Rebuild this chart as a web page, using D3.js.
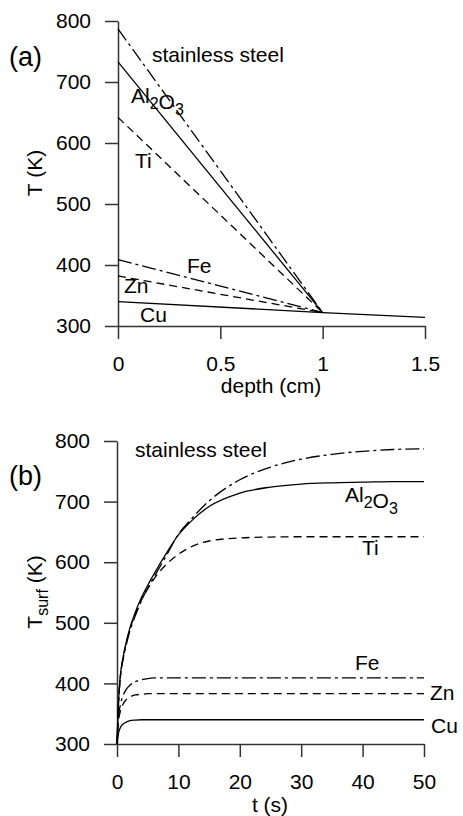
<!DOCTYPE html>
<html lang="en">
<head>
<meta charset="UTF-8">
<title>surface temperature</title>
<script src="https://d3js.org/d3.v7.min.js"></script>
<style>
  body { margin: 0; background: #fff; }
  svg text { font-family: "Liberation Sans", Arial, sans-serif; fill: #000; }
</style>
</head>
<body>
<div id="chart"></div>
<script>
// ---- data, panel (a): temperature profile vs depth ----
var materials = ["stainless steel", "Al2O3", "Ti", "Fe", "Zn", "Cu"];
var depthPts = [0, 1];
var surfT = [787, 733, 642, 409, 382, 340];   // T at depth 0
var interfaceT = 322;                          // T at depth 1 cm
var substrateDepth = [1, 1.5];
var substrateT = [322, 314];

// ---- data, panel (b): surface temperature vs time ----
var times = [0, 0.25, 0.5, 1, 1.5, 2, 3, 4, 5, 6, 8, 10, 12, 15, 20, 25, 30, 35, 40, 45, 50];
var steelT = [300, 368, 405, 440, 463, 483, 512, 537, 557, 575, 610, 646, 670, 701, 736, 757, 770, 778, 783, 786, 787];
var al2o3T = [300, 370, 408, 444, 468, 488, 518, 542, 562, 580, 614, 645, 667, 692, 714, 724, 729, 731, 732, 733, 733];
var tiT    = [300, 369, 406, 442, 466, 486, 515, 538, 556, 572, 596, 613, 625, 635, 640, 641.5, 642, 642, 642, 642, 642];
var feT    = [300, 345, 362, 380, 390, 396, 403, 406, 408, 409, 409, 409, 409, 409, 409, 409, 409, 409, 409, 409, 409];
var znT    = [300, 338, 352, 366, 373, 377, 381, 382, 383, 383, 383, 383, 383, 383, 383, 383, 383, 383, 383, 383, 383];
var cuT    = [300, 318, 326, 333, 336, 338, 339.5, 340, 340, 340, 340, 340, 340, 340, 340, 340, 340, 340, 340, 340, 340];

var depthTicks = [0, 0.5, 1, 1.5];
var timeTicks = [0, 10, 20, 30, 40, 50];
var tempTicks = [300, 400, 500, 600, 700, 800];

// line styles per material
var dashes = {
  "stainless steel": "14,4,3,4",
  "Al2O3": null,
  "Ti": "8,5",
  "Fe": "14,4,3,4",
  "Zn": "8,5",
  "Cu": null
};

var W = 463, H = 816;
var svg = d3.select("#chart").append("svg")
  .attr("width", W).attr("height", H);

// ---- helper: draw axes with major + minor ticks ----
function drawAxes(g, x, y, xMajor, xMinorStep, yMajor) {
  var h = y.range()[0];
  var xr = x.domain();
  var xMinor = d3.range(xr[0], xr[1] + 1e-9, xMinorStep);
  var yMinor = d3.range(300, 801, 50);

  var xa = g.append("g").attr("transform", "translate(0," + h + ")");
  xa.call(d3.axisBottom(x).tickValues(xMinor).tickSize(7).tickSizeOuter(0).tickFormat(""));
  xa.call(d3.axisBottom(x).tickValues(xMajor).tickSize(13).tickSizeOuter(0)
          .tickPadding(17).tickFormat(d3.format("")));
  var ya = g.append("g").attr("transform", "translate(" + x.range()[0] + ",0)");
  ya.call(d3.axisLeft(y).tickValues(yMinor).tickSize(7).tickSizeOuter(0).tickFormat(""));
  ya.call(d3.axisLeft(y).tickValues(yMajor).tickSize(13).tickSizeOuter(0)
          .tickPadding(14).tickFormat(d3.format("")));

  g.selectAll(".domain").attr("stroke", "#333").attr("stroke-width", 1.5);
  g.selectAll(".tick line").attr("stroke", "#333").attr("stroke-width", 1.5);
  g.selectAll(".tick text").style("font-size", "21px")
    .style("font-family", "Liberation Sans, Arial, sans-serif").attr("fill", "#000");
}

// parts: plain strings, or {sub: "..."} for subscripts
function label(g, x, y, parts, size) {
  var t = g.append("text").attr("x", x).attr("y", y).style("font-size", (size || 21) + "px");
  parts.forEach(function(p) {
    if (typeof p === "object") {
      t.append("tspan").attr("dy", 6).style("font-size", "16px").text(p.sub);
      t.append("tspan").attr("dy", -6).text("");
    } else {
      t.append("tspan").text(p);
    }
  });
  return t;
}

var labelParts = {
  "stainless steel": ["stainless steel"],
  "Al2O3": ["Al", {sub: "2"}, "O", {sub: "3"}],
  "Ti": ["Ti"], "Fe": ["Fe"], "Zn": ["Zn"], "Cu": ["Cu"]
};

// ================= panel (a) =================
var xa = d3.scaleLinear().domain([0, 1.5]).range([118, 425]);
var ya = d3.scaleLinear().domain([300, 800]).range([326, 21]);
var ga = svg.append("g");
drawAxes(ga, xa, ya, depthTicks, 0.1, tempTicks);

var lineA = d3.line().x(function(d) { return xa(d[0]); }).y(function(d) { return ya(d[1]); });
materials.forEach(function(m, i) {
  ga.append("path")
    .datum(depthPts.map(function(dp, j) { return [dp, j === 0 ? surfT[i] : interfaceT]; }))
    .attr("d", lineA).attr("fill", "none").attr("stroke", "#000")
    .attr("stroke-width", 1.3).attr("stroke-dasharray", dashes[m]);
});
ga.append("path")
  .datum(substrateDepth.map(function(dp, j) { return [dp, substrateT[j]]; }))
  .attr("d", lineA).attr("fill", "none").attr("stroke", "#000").attr("stroke-width", 1.3);

var labelPosA = {
  "stainless steel": [152, 62], "Al2O3": [131, 103], "Ti": [135, 168],
  "Fe": [187, 273], "Zn": [124, 293], "Cu": [140, 322]
};
materials.forEach(function(m) {
  label(ga, labelPosA[m][0], labelPosA[m][1], labelParts[m]);
});

ga.append("text").attr("x", 271).attr("y", 393).attr("text-anchor", "middle")
  .style("font-size", "21px").text("depth (cm)");
ga.append("text").attr("transform", "translate(42,173) rotate(-90)")
  .attr("text-anchor", "middle").style("font-size", "21px").text("T (K)");
ga.append("text").attr("x", 9).attr("y", 66).style("font-size", "27px").text("(a)");

// ================= panel (b) =================
var xb = d3.scaleLinear().domain([0, 50]).range([117, 424]);
var yb = d3.scaleLinear().domain([300, 800]).range([744, 441]);
var gb = svg.append("g");
drawAxes(gb, xb, yb, timeTicks, 5, tempTicks);

var seriesB = [steelT, al2o3T, tiT, feT, znT, cuT];
var lineB = d3.line().curve(d3.curveMonotoneX)
  .x(function(d) { return xb(d[0]); }).y(function(d) { return yb(d[1]); });
materials.forEach(function(m, i) {
  gb.append("path")
    .datum(times.map(function(t, j) { return [t, seriesB[i][j]]; }))
    .attr("d", lineB).attr("fill", "none").attr("stroke", "#000")
    .attr("stroke-width", 1.3).attr("stroke-dasharray", dashes[m]);
});

var labelPosB = {
  "stainless steel": [135, 457], "Al2O3": [345, 502], "Ti": [362, 555],
  "Fe": [355, 670], "Zn": [430, 700], "Cu": [431, 733]
};
materials.forEach(function(m) {
  label(gb, labelPosB[m][0], labelPosB[m][1], labelParts[m]);
});

gb.append("text").attr("x", 270).attr("y", 812).attr("text-anchor", "middle")
  .style("font-size", "21px").text("t (s)");
var yt = gb.append("text").attr("transform", "translate(42,592) rotate(-90)")
  .attr("text-anchor", "middle").style("font-size", "21px");
yt.append("tspan").text("T");
yt.append("tspan").attr("dy", 6).style("font-size", "16px").text("surf");
yt.append("tspan").attr("dy", -6).text(" (K)");
gb.append("text").attr("x", 9).attr("y", 485).style("font-size", "27px").text("(b)");
</script>
</body>
</html>
